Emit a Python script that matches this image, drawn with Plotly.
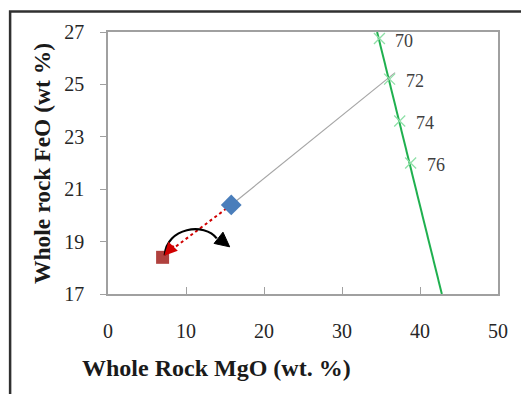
import plotly.graph_objects as go

# Data
olivine_fo = ["70", "72", "74", "76"]
olivine_mgo = [34.8, 36.1, 37.4, 38.8]
olivine_feo = [26.75, 25.2, 23.6, 22.0]
trend_mgo = [34.5, 42.8]
trend_feo = [27.0, 17.0]
tie_mgo = [15.8, 36.8]
tie_feo = [20.4, 25.45]
bulk_mgo = [15.8]
bulk_feo = [20.4]
melt_mgo = [7.0]
melt_feo = [18.4]
x_ticks = [0, 10, 20, 30, 40, 50]
y_ticks = [17, 19, 21, 23, 25, 27]

SERIF = "Liberation Serif, Times New Roman, serif"

fig = go.Figure()
fig.add_trace(go.Scatter(x=tie_mgo, y=tie_feo, mode="lines",
                         line=dict(color="#a6a6a6", width=1.2), hoverinfo="skip"))
fig.add_trace(go.Scatter(x=trend_mgo, y=trend_feo, mode="lines",
                         line=dict(color="#1fb04f", width=2), hoverinfo="skip"))
fig.add_trace(go.Scatter(x=olivine_mgo, y=olivine_feo, mode="markers",
                         marker=dict(symbol="x-thin", size=11,
                                     line=dict(color="#8fe0a8", width=1.3)),
                         cliponaxis=False))
for fo, mx, my in zip(olivine_fo, olivine_mgo, olivine_feo):
    fig.add_annotation(x=mx, y=my, text=fo, showarrow=False, xanchor="left",
                       yanchor="middle", xshift=14, yshift=-2,
                       font=dict(family=SERIF, size=18, color="#404040"))
fig.add_trace(go.Scatter(x=[bulk_mgo[0], melt_mgo[0] + 0.3], y=[bulk_feo[0], melt_feo[0] + 0.1],
                         mode="lines", line=dict(color="#d00000", width=2, dash="dot"),
                         hoverinfo="skip"))
fig.add_trace(go.Scatter(x=bulk_mgo, y=bulk_feo, mode="markers",
                         marker=dict(symbol="diamond", size=16, color="#4a7ebb",
                                     line=dict(width=0))))
fig.add_trace(go.Scatter(x=melt_mgo, y=melt_feo, mode="markers",
                         marker=dict(symbol="square", size=13, color="#b0413e",
                                     line=dict(width=0))))

# red arrow head
fig.add_annotation(x=melt_mgo[0] + 0.2, y=melt_feo[0] + 0.06,
                   ax=melt_mgo[0] + 1.6, ay=melt_feo[0] + 0.5,
                   xref="x", yref="y", axref="x", ayref="y",
                   showarrow=True, arrowhead=2, arrowsize=1.3, arrowwidth=2,
                   arrowcolor="#d00000", text="")

# black curved arrow
fig.add_shape(type="path", xref="x", yref="y",
              path="M 7.27,18.48 C 7.5,19.55 12.4,19.74 13.94,19.12",
              line=dict(color="black", width=2.2))
fig.add_shape(type="path", xref="x", yref="y",
              path="M 14.74,19.36 L 15.6,18.8 L 13.6,18.93 Z",
              fillcolor="black", line=dict(color="black", width=1))

# outer frame
fig.add_shape(type="rect", xref="paper", yref="paper",
              x0=-0.251, y0=-0.6, x1=1.3, y1=1.078,
              line=dict(color="#303030", width=2.5), layer="above")

fig.add_annotation(text="<b>Whole Rock MgO (wt. %)</b>", xref="paper", yref="paper",
                   x=(216 - 108) / 390, y=(294 - 368) / 262, showarrow=False,
                   xanchor="center", yanchor="middle",
                   font=dict(family=SERIF, size=24, color="#1a1a1a"))
fig.add_annotation(text="<b>Whole rock FeO (wt %)</b>", xref="paper", yref="paper",
                   x=(42 - 108) / 390, y=(294 - 164) / 262, showarrow=False,
                   textangle=-90, xanchor="center", yanchor="middle",
                   font=dict(family=SERIF, size=23.5, color="#1a1a1a"))

fig.update_layout(
    width=521, height=394,
    margin=dict(l=108, r=23, t=32, b=100),
    paper_bgcolor="white", plot_bgcolor="white",
    showlegend=False,
    font=dict(family=SERIF, size=19, color="#262626"),
    xaxis=dict(range=[0, 50], tickvals=x_ticks, ticks="inside", ticklen=7,
               tickcolor="#a0a0a0", showgrid=False, zeroline=False,
               showline=True, linecolor="#a0a0a0", linewidth=1.5, mirror=True,
               ticklabelstandoff=18, tickfont=dict(family=SERIF, size=20)),
    yaxis=dict(range=[17, 27], tickvals=y_ticks, ticks="outside", ticklen=6,
               tickcolor="#a0a0a0", showgrid=False, zeroline=False,
               showline=True, linecolor="#a0a0a0", linewidth=1.5, mirror=True,
               ticklabelstandoff=12, tickfont=dict(family=SERIF, size=20)),
)

fig.write_html("out.html", config={"displayModeBar": False},
               post_script="document.body.style.margin='0';")
